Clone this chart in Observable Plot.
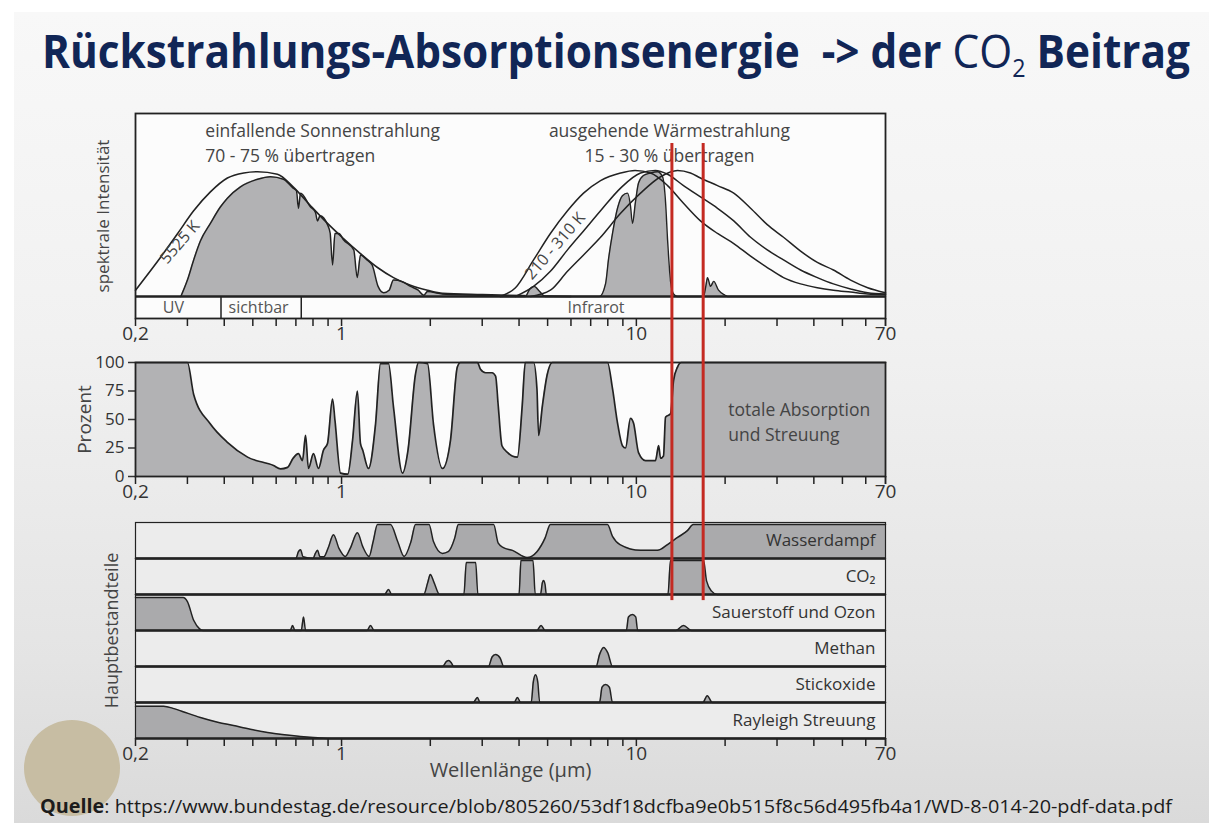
<!DOCTYPE html>
<html><head><meta charset="utf-8">
<script src="https://cdn.jsdelivr.net/npm/d3@7"></script>
<script src="https://cdn.jsdelivr.net/npm/@observablehq/plot@0.6"></script>
<style>
html,body{margin:0;padding:0;width:1209px;height:823px;overflow:hidden;background:#fff;font-family:"Open Sans",sans-serif;}
#slide{position:absolute;left:14px;top:12px;width:1195px;height:811px;background:linear-gradient(to bottom,#f8f8f8 0%,#f1f1f1 40%,#e4e4e4 80%,#dadada 100%);}
#title{position:absolute;left:42px;top:27px;font-size:46px;line-height:1;font-weight:700;color:#112656;white-space:nowrap;transform-origin:0 0;}
#title .r{font-weight:400;}
#title sub{font-size:0.55em;vertical-align:-0.35em;line-height:0;}
#logo{position:absolute;left:24px;top:720px;width:96px;height:96px;border-radius:50%;background:#c7bda3;}
.panel{position:absolute;left:0;}
#caption{position:absolute;left:40px;top:797px;font-size:19px;line-height:1;color:#1c1c1c;white-space:nowrap;transform-origin:0 0;}
#caption b{font-weight:700;}
</style></head><body>
<div id="slide"></div>
<div id="logo"></div>
<div id="title"><span>Rückstrahlungs-Absorptionsenergie&nbsp; -&gt; der </span><span class="r">CO<sub>2</sub></span><span> Beitrag</span></div>
<div id="p1" class="panel" style="top:100px"></div>
<div id="p2" class="panel" style="top:348px"></div>
<div id="p3" class="panel" style="top:508px"></div>
<div id="caption"><b>Quelle</b>: https://www.bundestag.de/resource/blob/805260/53df18dcfba9e0b515f8c56d495fb4a1/WD-8-014-20-pdf-data.pdf</div>
<script>
// ---------- axis ticks ----------
const wlTicks = [0.2,0.3,0.4,0.5,0.6,0.7,0.8,0.9,1,2,3,4,5,6,7,8,9,10,20,30,40,50,60,70];
const wlLabelTicks = [0.2,1,10,70];
const wlLabelTexts = ["0,2","1","10","70"];
const percentTicks = [0,25,50,75,100];
const redLines = [13.2,16.85];

// ---------- panel 1: spectral intensity (wavelength µm, relative intensity) ----------
const solarEnvelope = [[0.2,0.05],[0.243,0.31],[0.278,0.50],[0.315,0.68],[0.359,0.83],[0.41,0.94],[0.466,0.98],[0.519,0.99],[0.606,0.97],[0.685,0.87],[0.785,0.72],[0.896,0.58],[1.015,0.46],[1.159,0.34],[1.324,0.23],[1.5,0.15],[1.713,0.09],[1.957,0.05],[2.2,0.025],[3.0,0.015],[4.5,0.005],[6,0]];
const solarSurface = [[0.285,0],[0.30,0.13],[0.315,0.29],[0.332,0.44],[0.359,0.58],[0.388,0.71],[0.41,0.78],[0.454,0.87],[0.519,0.93],[0.574,0.95],[0.635,0.93],[0.685,0.86],[0.703,0.84],[0.714,0.70],[0.726,0.82],[0.785,0.71],[0.815,0.67],[0.829,0.60],[0.845,0.64],[0.896,0.57],[0.915,0.50],[0.932,0.25],[0.95,0.50],[0.98,0.50],[1.015,0.45],[1.10,0.37],[1.13,0.15],[1.16,0.33],[1.22,0.29],[1.27,0.25],[1.33,0.08],[1.39,0.03],[1.45,0.05],[1.5,0.13],[1.6,0.12],[1.713,0.08],[1.82,0.05],[1.9,0.01],[1.957,0.04],[2.2,0.02],[3.0,0.01],[3.5,0]];
const earthEmission = [[3.5,0],[4.2,0],[4.35,0.06],[4.5,0.08],[4.7,0.04],[4.9,0],[7.5,0],[7.86,0.1],[8.05,0.3],[8.3,0.5],[8.63,0.70],[8.97,0.80],[9.33,0.82],[9.55,0.72],[9.70,0.58],[9.93,0.75],[10.17,0.90],[10.57,0.96],[11.17,0.98],[11.8,0.99],[12.27,0.95],[12.56,0.75],[12.76,0.45],[13.06,0.12],[13.37,0.02],[13.79,0],[16.9,0],[17.2,0.08],[17.43,0.15],[17.85,0.08],[18.3,0.12],[19.0,0.05],[20.0,0.01],[20.4,0],[70,0]];
const planck310 = [[3.46,0],[3.89,0.07],[4.48,0.29],[5.11,0.50],[5.84,0.68],[6.62,0.82],[7.56,0.92],[8.84,0.98],[9.9,1.0],[11.17,0.98],[12.76,0.88],[14.45,0.74],[16.5,0.60],[18.85,0.50],[21.4,0.42],[24.4,0.32],[27.8,0.23],[31.56,0.15],[36.06,0.10],[41.1,0.07],[46.6,0.05],[53.3,0.035],[60.9,0.02],[70,0.015]];
const planck260 = [[3.89,0],[4.48,0.08],[5.11,0.20],[5.84,0.37],[6.62,0.52],[7.56,0.68],[8.84,0.86],[10.33,0.98],[11.6,1.0],[12.76,0.97],[14.45,0.88],[16.5,0.79],[18.85,0.70],[21.4,0.60],[24.4,0.47],[27.8,0.37],[31.56,0.29],[36.06,0.21],[41.1,0.15],[46.6,0.10],[53.3,0.06],[60.9,0.03],[70,0.02]];
const planck210 = [[4.38,0],[5.11,0.05],[5.84,0.20],[6.62,0.33],[7.56,0.47],[8.84,0.66],[10.33,0.82],[12.08,0.95],[13.79,1.0],[15.26,0.98],[16.5,0.94],[18.85,0.88],[21.4,0.82],[24.4,0.70],[27.8,0.57],[31.56,0.47],[36.06,0.36],[41.1,0.27],[46.6,0.21],[53.3,0.13],[60.9,0.07],[70,0.03]];
const bandEdges = [0.39,0.73];
const bandText = ["UV","sichtbar","Infrarot"];
const bandWl = [0.269,0.523,7.3];
const headText = ["einfallende Sonnenstrahlung","70 - 75 % übertragen"];
const headWl = [0.345,0.345];
const headI = [1.31,1.11];
const head2Text = ["ausgehende Wärmestrahlung","15 - 30 % übertragen"];
const head2Wl = [12.95,12.95];
const tempText = ["5525 K","210 - 310 K"];
const tempWl = [0.283,5.3];
const tempI = [0.43,0.40];

// ---------- panel 2: total absorption and scattering (%) ----------
const absorption = [[0.2,100],[0.30,100],[0.315,72],[0.359,46],[0.41,30],[0.48,17],[0.588,9.6],[0.621,6.7],[0.656,8],[0.685,16],[0.714,20],[0.737,14],[0.755,36],[0.772,7],[0.803,20],[0.835,7],[0.868,23],[0.896,29],[0.932,68],[0.95,49],[0.992,3],[1.05,2],[1.09,32],[1.132,75],[1.159,29],[1.18,23],[1.234,7],[1.304,46],[1.356,99],[1.443,99],[1.50,61],[1.61,3],[1.68,23],[1.782,90],[1.824,100],[1.957,99],[2.05,46],[2.20,7],[2.342,32],[2.47,96],[2.532,100],[2.89,100],[2.96,94],[3.08,91],[3.24,91],[3.33,88],[3.4,62],[3.5,27],[3.66,21],[3.79,18],[3.95,17],[4.1,62],[4.2,100],[4.48,100],[4.6,77],[4.66,36],[4.8,62],[4.98,89],[5.19,100],[7.98,100],[8.3,77],[8.63,47],[8.97,27],[9.19,25],[9.55,51],[9.78,47],[10.17,21],[10.74,14],[11.61,14],[11.9,27],[12.08,16],[12.36,18],[12.56,52],[13.06,55],[13.37,84],[13.79,96],[14.2,100],[70,100]];
const absText = ["totale Absorption","und Streuung"];
const absY = [58,36];

// ---------- panel 3: main constituents (fraction absorbed) ----------
const gasNames = ["Wasserdampf","CO₂","Sauerstoff und Ozon","Methan","Stickoxide","Rayleigh Streuung"];
const waterVapour = [[0.2,0],[0.70,0],[0.714,0.2],[0.726,0.26],[0.74,0.05],[0.80,0],[0.815,0.15],[0.829,0.24],[0.845,0.05],[0.87,0.05],[0.90,0.3],[0.939,0.7],[0.98,0.3],[1.03,0.06],[1.07,0.3],[1.132,0.76],[1.18,0.35],[1.24,0.06],[1.28,0.5],[1.324,1.0],[1.466,1.0],[1.55,0.5],[1.63,0.06],[1.72,0.5],[1.782,1.0],[1.98,1.0],[2.05,0.5],[2.2,0.15],[2.3,0.2],[2.42,0.6],[2.49,1.0],[3.28,1.0],[3.4,0.45],[3.54,0.32],[3.8,0.24],[4.26,0.03],[4.6,0.2],[4.9,0.6],[5.11,1.0],[7.98,1.0],[8.3,0.65],[8.8,0.41],[10.33,0.24],[11.8,0.24],[12.76,0.41],[13.8,0.62],[14.9,0.82],[15.6,1.0],[70,1.0]];
const carbonDioxide = [[0.2,0],[1.40,0],[1.443,0.15],[1.48,0],[1.9,0],[1.96,0.35],[2.0,0.59],[2.06,0.35],[2.15,0],[2.6,0],[2.65,0.94],[2.85,0.94],[2.9,0],[4.0,0],[4.06,1.0],[4.46,1.0],[4.54,0],[4.73,0],[4.8,0.35],[4.84,0.41],[4.9,0.3],[4.95,0],[12.8,0],[13.06,1.0],[16.9,1.0],[17.3,0.4],[18,0.1],[18.8,0],[70,0]];
const oxygenOzone = [[0.2,0.97],[0.29,0.97],[0.30,0.85],[0.315,0.3],[0.33,0.05],[0.34,0],[0.67,0],[0.682,0.15],[0.695,0],[0.73,0],[0.743,0.4],[0.755,0],[1.22,0],[1.254,0.15],[1.29,0],[4.6,0],[4.75,0.15],[4.9,0],[9.25,0],[9.4,0.4],[9.7,0.47],[9.95,0.4],[10.1,0],[13.6,0],[14.45,0.15],[15.4,0],[70,0]];
const methane = [[0.2,0],[2.2,0],[2.27,0.15],[2.31,0.18],[2.36,0.1],[2.4,0],[3.15,0],[3.24,0.28],[3.33,0.35],[3.45,0.25],[3.55,0],[7.3,0],[7.5,0.35],[7.74,0.56],[8.0,0.4],[8.3,0],[70,0]];
const nitrousOxide = [[0.2,0],[2.8,0],[2.89,0.15],[2.95,0],[3.85,0],[3.95,0.15],[4.05,0],[4.4,0],[4.47,0.6],[4.55,0.82],[4.63,0.6],[4.7,0],[7.5,0],[7.65,0.45],[7.86,0.53],[8.1,0.45],[8.3,0],[16.8,0],[17.4,0.2],[18.1,0],[70,0]];
const rayleigh = [[0.2,0.95],[0.249,0.95],[0.27,0.88],[0.29,0.79],[0.332,0.62],[0.38,0.48],[0.43,0.38],[0.49,0.27],[0.561,0.18],[0.64,0.11],[0.726,0.06],[0.83,0.02],[0.94,0],[70,0]];
const gasSeries = [waterVapour,carbonDioxide,oxygenOzone,methane,nitrousOxide,rayleigh];

// ---------- styling ----------
const INK = "#222";
const GRAY = "#b2b2b4";
const GRAY3 = "#aaaaac";
const RED = "#c42a22";
const TXT = "#3a3a3a";
const CURVE = "monotone-x";
const FONT = "'Open Sans', sans-serif";
const baseStyle = {background: "transparent", overflow: "hidden", fontFamily: FONT, color: TXT};
const X = d => d[0], Y = d => d[1];
const xScale = {type: "log", domain: [0.2, 70]};
const common = {width: 1209, marginLeft: 135, marginRight: 324, x: xScale, style: baseStyle};
// tick marks from the axis mark, tick labels from a text mark anchored below the frame
const xAxis = () => [
  Plot.axisX({ticks: wlTicks, tickFormat: () => "", tickSize: 8, color: INK, strokeWidth: 1.5, label: null}),
  Plot.tickX(wlLabelTicks.slice(-1), {x: d => d, y1: undefined, frameAnchor: "bottom"}),
  Plot.text(wlLabelTicks, {x: d => d, text: (d, i) => wlLabelTexts[i], frameAnchor: "bottom", dy: 21, fontSize: 19, fill: "#333"})
];
const tick70 = (y1, y2) => Plot.ruleX(wlLabelTicks.slice(-1), {x: d => d, y1: () => y1, y2: () => y2, stroke: INK, strokeWidth: 1.5});

// ---------- panel 1 ----------
const p1 = Plot.plot({
  ...common, height: 248, marginTop: 13, marginBottom: 30,
  y: {domain: [-0.1746, 1.452], axis: null},
  marks: [
    Plot.frame({fill: "#fcfcfc"}),
    Plot.areaY(solarSurface, {x: X, y: Y, fill: GRAY, curve: CURVE}),
    Plot.lineY(solarSurface, {x: X, y: Y, stroke: INK, strokeWidth: 1.5, curve: CURVE}),
    Plot.lineY(solarEnvelope, {x: X, y: Y, stroke: INK, strokeWidth: 1.6, curve: CURVE}),
    Plot.areaY(earthEmission, {x: X, y: Y, fill: GRAY, curve: CURVE}),
    Plot.lineY(earthEmission, {x: X, y: Y, stroke: INK, strokeWidth: 1.4, curve: CURVE}),
    Plot.lineY(planck310, {x: X, y: Y, stroke: INK, strokeWidth: 1.5, curve: CURVE}),
    Plot.lineY(planck260, {x: X, y: Y, stroke: INK, strokeWidth: 1.5, curve: CURVE}),
    Plot.lineY(planck210, {x: X, y: Y, stroke: INK, strokeWidth: 1.5, curve: CURVE}),
    Plot.ruleY([0], {stroke: INK, strokeWidth: 2.4}),
    Plot.ruleX(bandEdges, {x: d => d, y1: () => -0.1746, y2: () => 0, stroke: INK, strokeWidth: 1.5}),
    Plot.text(bandText, {x: (d, i) => bandWl[i], y: () => -0.088, text: d => d, fontSize: 16, fill: "#555"}),
    Plot.text(headText, {x: (d, i) => headWl[i], y: (d, i) => headI[i], text: d => d, textAnchor: "start", fontSize: 17.5, fill: "#444"}),
    Plot.text(head2Text, {x: (d, i) => head2Wl[i], y: (d, i) => headI[i], text: d => d, textAnchor: "middle", fontSize: 17.5, fill: "#444"}),
    Plot.text(tempText, {x: (d, i) => tempWl[i], y: (d, i) => tempI[i], text: d => d, rotate: -49, fontSize: 16, fill: "#444"}),
    Plot.text(["spektrale Intensität"], {frameAnchor: "left", text: d => d, rotate: -90, textAnchor: "middle", dx: -32, fontSize: 17, fill: "#444"}),
    Plot.axisX({ticks: wlTicks, tickFormat: () => "", tickSize: 8, color: INK, strokeWidth: 1.5, label: null}),
    tick70(-0.1746, -0.238),
    Plot.text(wlLabelTicks, {x: d => d, text: (d, i) => wlLabelTexts[i], frameAnchor: "bottom", dy: 21, fontSize: 19, fill: "#333"}),
    Plot.frame({stroke: INK, strokeWidth: 1.8}),
    Plot.ruleX(redLines, {x: d => d, y1: () => -0.6, y2: () => 1.214, stroke: RED, strokeWidth: 3})
  ]
});
document.getElementById("p1").append(p1);

// ---------- panel 2 ----------
const p2 = Plot.plot({
  ...common, height: 160, marginTop: 14, marginBottom: 32,
  y: {domain: [0, 100]},
  marks: [
    Plot.frame({fill: "#fcfcfc"}),
    Plot.areaY(absorption, {x: X, y: Y, fill: GRAY, curve: CURVE}),
    Plot.lineY(absorption, {x: X, y: Y, stroke: INK, strokeWidth: 1.7, curve: CURVE}),
    Plot.text(absText, {x: () => 20.5, y: (d, i) => absY[i], text: d => d, textAnchor: "start", fontSize: 17.5, fill: "#444"}),
    Plot.text(["Prozent"], {frameAnchor: "left", text: d => d, rotate: -90, textAnchor: "middle", dx: -51, fontSize: 19, fill: "#444"}),
    Plot.axisY({ticks: percentTicks, tickSize: 7, tickPadding: 4, fontSize: 17, color: "#333", strokeWidth: 1.5, label: null}),
    Plot.axisX({ticks: wlTicks, tickFormat: () => "", tickSize: 8, color: INK, strokeWidth: 1.5, label: null}),
    tick70(0, -7),
    Plot.text(wlLabelTicks, {x: d => d, text: (d, i) => wlLabelTexts[i], frameAnchor: "bottom", dy: 21, fontSize: 19, fill: "#333"}),
    Plot.frame({stroke: INK, strokeWidth: 1.8}),
    Plot.ruleX(redLines, {x: d => d, y1: () => -40, y2: () => 125, stroke: RED, strokeWidth: 3})
  ]
});
document.getElementById("p2").append(p2);

// ---------- panel 3 ----------
const gasTable = gasNames.flatMap((g, i) => gasSeries[i].map(([wl, v]) => ({gas: g, wl, v})));
const redRows = redLines.flatMap(x => [
  {gas: gasNames[0], x, y1: 0, y2: 1.7},
  {gas: gasNames[1], x, y1: -0.18, y2: 1.06}
]);
const lastGas = gasNames[gasNames.length - 1];
const p3 = Plot.plot({
  ...common, height: 280, marginTop: 14, marginBottom: 50,
  y: {domain: [0, 1.06], axis: null},
  fy: {domain: gasNames, padding: 0, axis: null},
  marks: [
    Plot.frame({fill: "#ececec"}),
    Plot.areaY(gasTable, {x: "wl", y: "v", fy: "gas", fill: GRAY3, curve: CURVE}),
    Plot.lineY(gasTable, {x: "wl", y: "v", fy: "gas", stroke: INK, strokeWidth: 1.5, curve: CURVE}),
    Plot.ruleY([0], {stroke: INK, strokeWidth: 2.4}),
    Plot.frame({stroke: INK, strokeWidth: 1.2}),
    Plot.text(gasNames, {fy: d => d, text: d => d, frameAnchor: "right", dx: -10, fontSize: 17, fill: "#333"}),
    Plot.text([{gas: gasNames[2], t: "Hauptbestandteile"}], {fy: "gas", text: "t", frameAnchor: "bottom-left", rotate: -90, textAnchor: "middle", dx: -18, fontSize: 18, fill: "#444"}),
    Plot.text([{gas: lastGas, t: "Wellenlänge (µm)"}], {fy: "gas", text: "t", frameAnchor: "bottom", dy: 38, fontSize: 20, fill: "#444"}),
    Plot.axisX({ticks: wlTicks, tickFormat: () => "", tickSize: 8, color: INK, strokeWidth: 1.5, label: null}),
    Plot.ruleX(wlLabelTicks.slice(-1).map(x => ({gas: lastGas, x})), {x: "x", fy: "gas", y1: () => 0, y2: () => -0.236, stroke: INK, strokeWidth: 1.5}),
    Plot.text(wlLabelTicks.map((x, i) => ({gas: lastGas, x, t: wlLabelTexts[i]})), {x: "x", fy: "gas", text: "t", frameAnchor: "bottom", dy: 21, fontSize: 19, fill: "#333"}),
    Plot.ruleX(redRows, {x: "x", y1: "y1", y2: "y2", fy: "gas", stroke: RED, strokeWidth: 3})
  ]
});
document.getElementById("p3").append(p3);

// ---------- fit title and caption widths ----------
function fit(id, w) {
  const el = document.getElementById(id);
  const r = el.getBoundingClientRect().width;
  el.style.transform = `scaleX(${w / r})`;
}
fit("title", 1148);
fit("caption", 1132);
</script>
</body></html>
